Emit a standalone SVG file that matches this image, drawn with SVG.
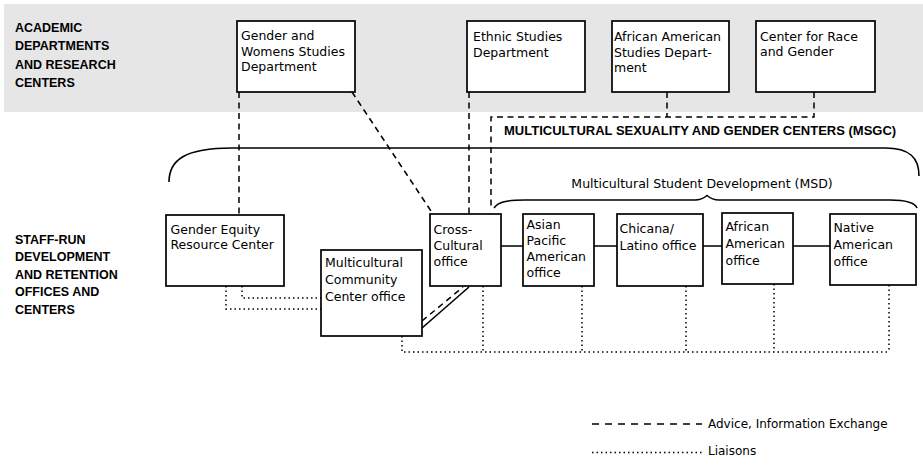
<svg xmlns="http://www.w3.org/2000/svg" width="923" height="472" viewBox="0 0 923 472">
<style>
.box{fill:#fff;stroke:#000;stroke-width:1.7}
.t{font-family:"DejaVu Sans",sans-serif;font-size:12.5px;fill:#000}
.h{font-family:"Liberation Sans",Arial,sans-serif;font-weight:bold;font-size:12.5px;fill:#000}
.dash{fill:none;stroke:#000;stroke-width:1.5;stroke-dasharray:6 4.5}
.dot{fill:none;stroke:#000;stroke-width:1.5;stroke-dasharray:1.5 3}
.solid{fill:none;stroke:#000;stroke-width:1.6}
.brace{fill:none;stroke:#000;stroke-width:1.6}
</style>
<rect x="4" y="4" width="919" height="108" fill="#e6e6e6"/>
<g id="section-labels">
<text class="h" x="15"><tspan x="15" y="32">ACADEMIC</tspan><tspan x="15" y="50">DEPARTMENTS</tspan><tspan x="15" y="68.5">AND RESEARCH</tspan><tspan x="15" y="86.5">CENTERS</tspan></text>
<text class="h" x="15"><tspan x="15" y="243.5">STAFF-RUN</tspan><tspan x="15" y="261">DEVELOPMENT</tspan><tspan x="15" y="278.5">AND RETENTION</tspan><tspan x="15" y="296">OFFICES AND</tspan><tspan x="15" y="313.5">CENTERS</tspan></text>
</g>
<g id="connectors">
<path class="dash" d="M239,92 V215"/>
<path class="dash" d="M352,92 L433,214"/>
<path class="dash" d="M469,92 V214"/>
<path class="dash" d="M667,92 V117 M814,92 V117 H491 V208"/>
<path class="dash" d="M422,321 L463,287"/>
<path class="solid" d="M422,328 L469,287"/>
<path class="solid" d="M501,246 H523 M594,246 H617 M703,246 H722 M793,246 H830"/>
<path class="dot" d="M242,286 V298 H321 M226,286 V309 H321"/>
<path class="dot" d="M402,336 V352 H889 M483,286 V352 M582,286 V352 M686,286 V352 M774,284 V352 M889,285 V352"/>
</g>
<g id="msgc-brace">
<path class="brace" d="M169,182 C169,160 185,148 232,148 L885,148 C910,148 919,158 919,176"/>
<text class="h" x="504" y="135" style="font-size:13px">MULTICULTURAL SEXUALITY AND GENDER CENTERS (MSGC)</text>
</g>
<g id="msd-brace">
<path class="brace" d="M494,208 C498,202 507,200 525,200 L695,200 C701,200 704,198 707,195.5 C710,198 713,200 719,200 L890,200 C908,200 915,203 917,208"/>
<text class="t" x="702" y="188" text-anchor="middle">Multicultural Student Development (MSD)</text>
</g>
<g id="gender-womens-studies">
<rect class="box" x="237" y="21" width="118" height="71"/>
<text class="t"><tspan x="241" y="40">Gender and</tspan><tspan x="241" y="55.5">Womens Studies</tspan><tspan x="241" y="71">Department</tspan></text>
</g>
<g id="ethnic-studies">
<rect class="box" x="467" y="21" width="118" height="71"/>
<text class="t"><tspan x="473" y="41">Ethnic Studies</tspan><tspan x="473" y="57">Department</tspan></text>
</g>
<g id="african-american-studies">
<rect class="box" x="612" y="21" width="117" height="71"/>
<text class="t"><tspan x="614" y="41">African American</tspan><tspan x="614" y="57">Studies Depart-</tspan><tspan x="614" y="72">ment</tspan></text>
</g>
<g id="center-race-gender">
<rect class="box" x="756" y="21" width="119" height="71"/>
<text class="t"><tspan x="760" y="41">Center for Race</tspan><tspan x="760" y="56">and Gender</tspan></text>
</g>
<g id="gender-equity">
<rect class="box" x="166" y="215" width="118" height="71"/>
<text class="t"><tspan x="170.5" y="234">Gender Equity</tspan><tspan x="170.5" y="248.5">Resource Center</tspan></text>
</g>
<g id="multicultural-community">
<rect class="box" x="321" y="250" width="101" height="86"/>
<text class="t"><tspan x="325" y="267">Multicultural</tspan><tspan x="325" y="284">Community</tspan><tspan x="325" y="300.5">Center office</tspan></text>
</g>
<g id="cross-cultural">
<rect class="box" x="430" y="214" width="71" height="72"/>
<text class="t"><tspan x="433.5" y="234">Cross-</tspan><tspan x="433.5" y="249.5">Cultural</tspan><tspan x="433.5" y="265.5">office</tspan></text>
</g>
<g id="asian-pacific">
<rect class="box" x="523" y="214" width="71" height="72"/>
<text class="t"><tspan x="526.5" y="229">Asian</tspan><tspan x="526.5" y="245">Pacific</tspan><tspan x="526.5" y="261">American</tspan><tspan x="526.5" y="277">office</tspan></text>
</g>
<g id="chicana-latino">
<rect class="box" x="617" y="214" width="86" height="72"/>
<text class="t"><tspan x="619.5" y="233">Chicana/</tspan><tspan x="619.5" y="250">Latino office</tspan></text>
</g>
<g id="african-american-office">
<rect class="box" x="722" y="213" width="71" height="71"/>
<text class="t"><tspan x="725.5" y="231">African</tspan><tspan x="725.5" y="248">American</tspan><tspan x="725.5" y="265">office</tspan></text>
</g>
<g id="native-american-office">
<rect class="box" x="830" y="214" width="86" height="71"/>
<text class="t"><tspan x="833.5" y="232">Native</tspan><tspan x="833.5" y="249">American</tspan><tspan x="833.5" y="266">office</tspan></text>
</g>
<g id="legend">
<path class="dash" d="M592,424 H702" style="stroke-dasharray:7 6"/>
<text class="t" x="708" y="428" style="font-size:12px">Advice, Information Exchange</text>
<path class="dot" d="M592,452.5 H702"/>
<text class="t" x="708" y="455" style="font-size:12px">Liaisons</text>
</g>
</svg>
